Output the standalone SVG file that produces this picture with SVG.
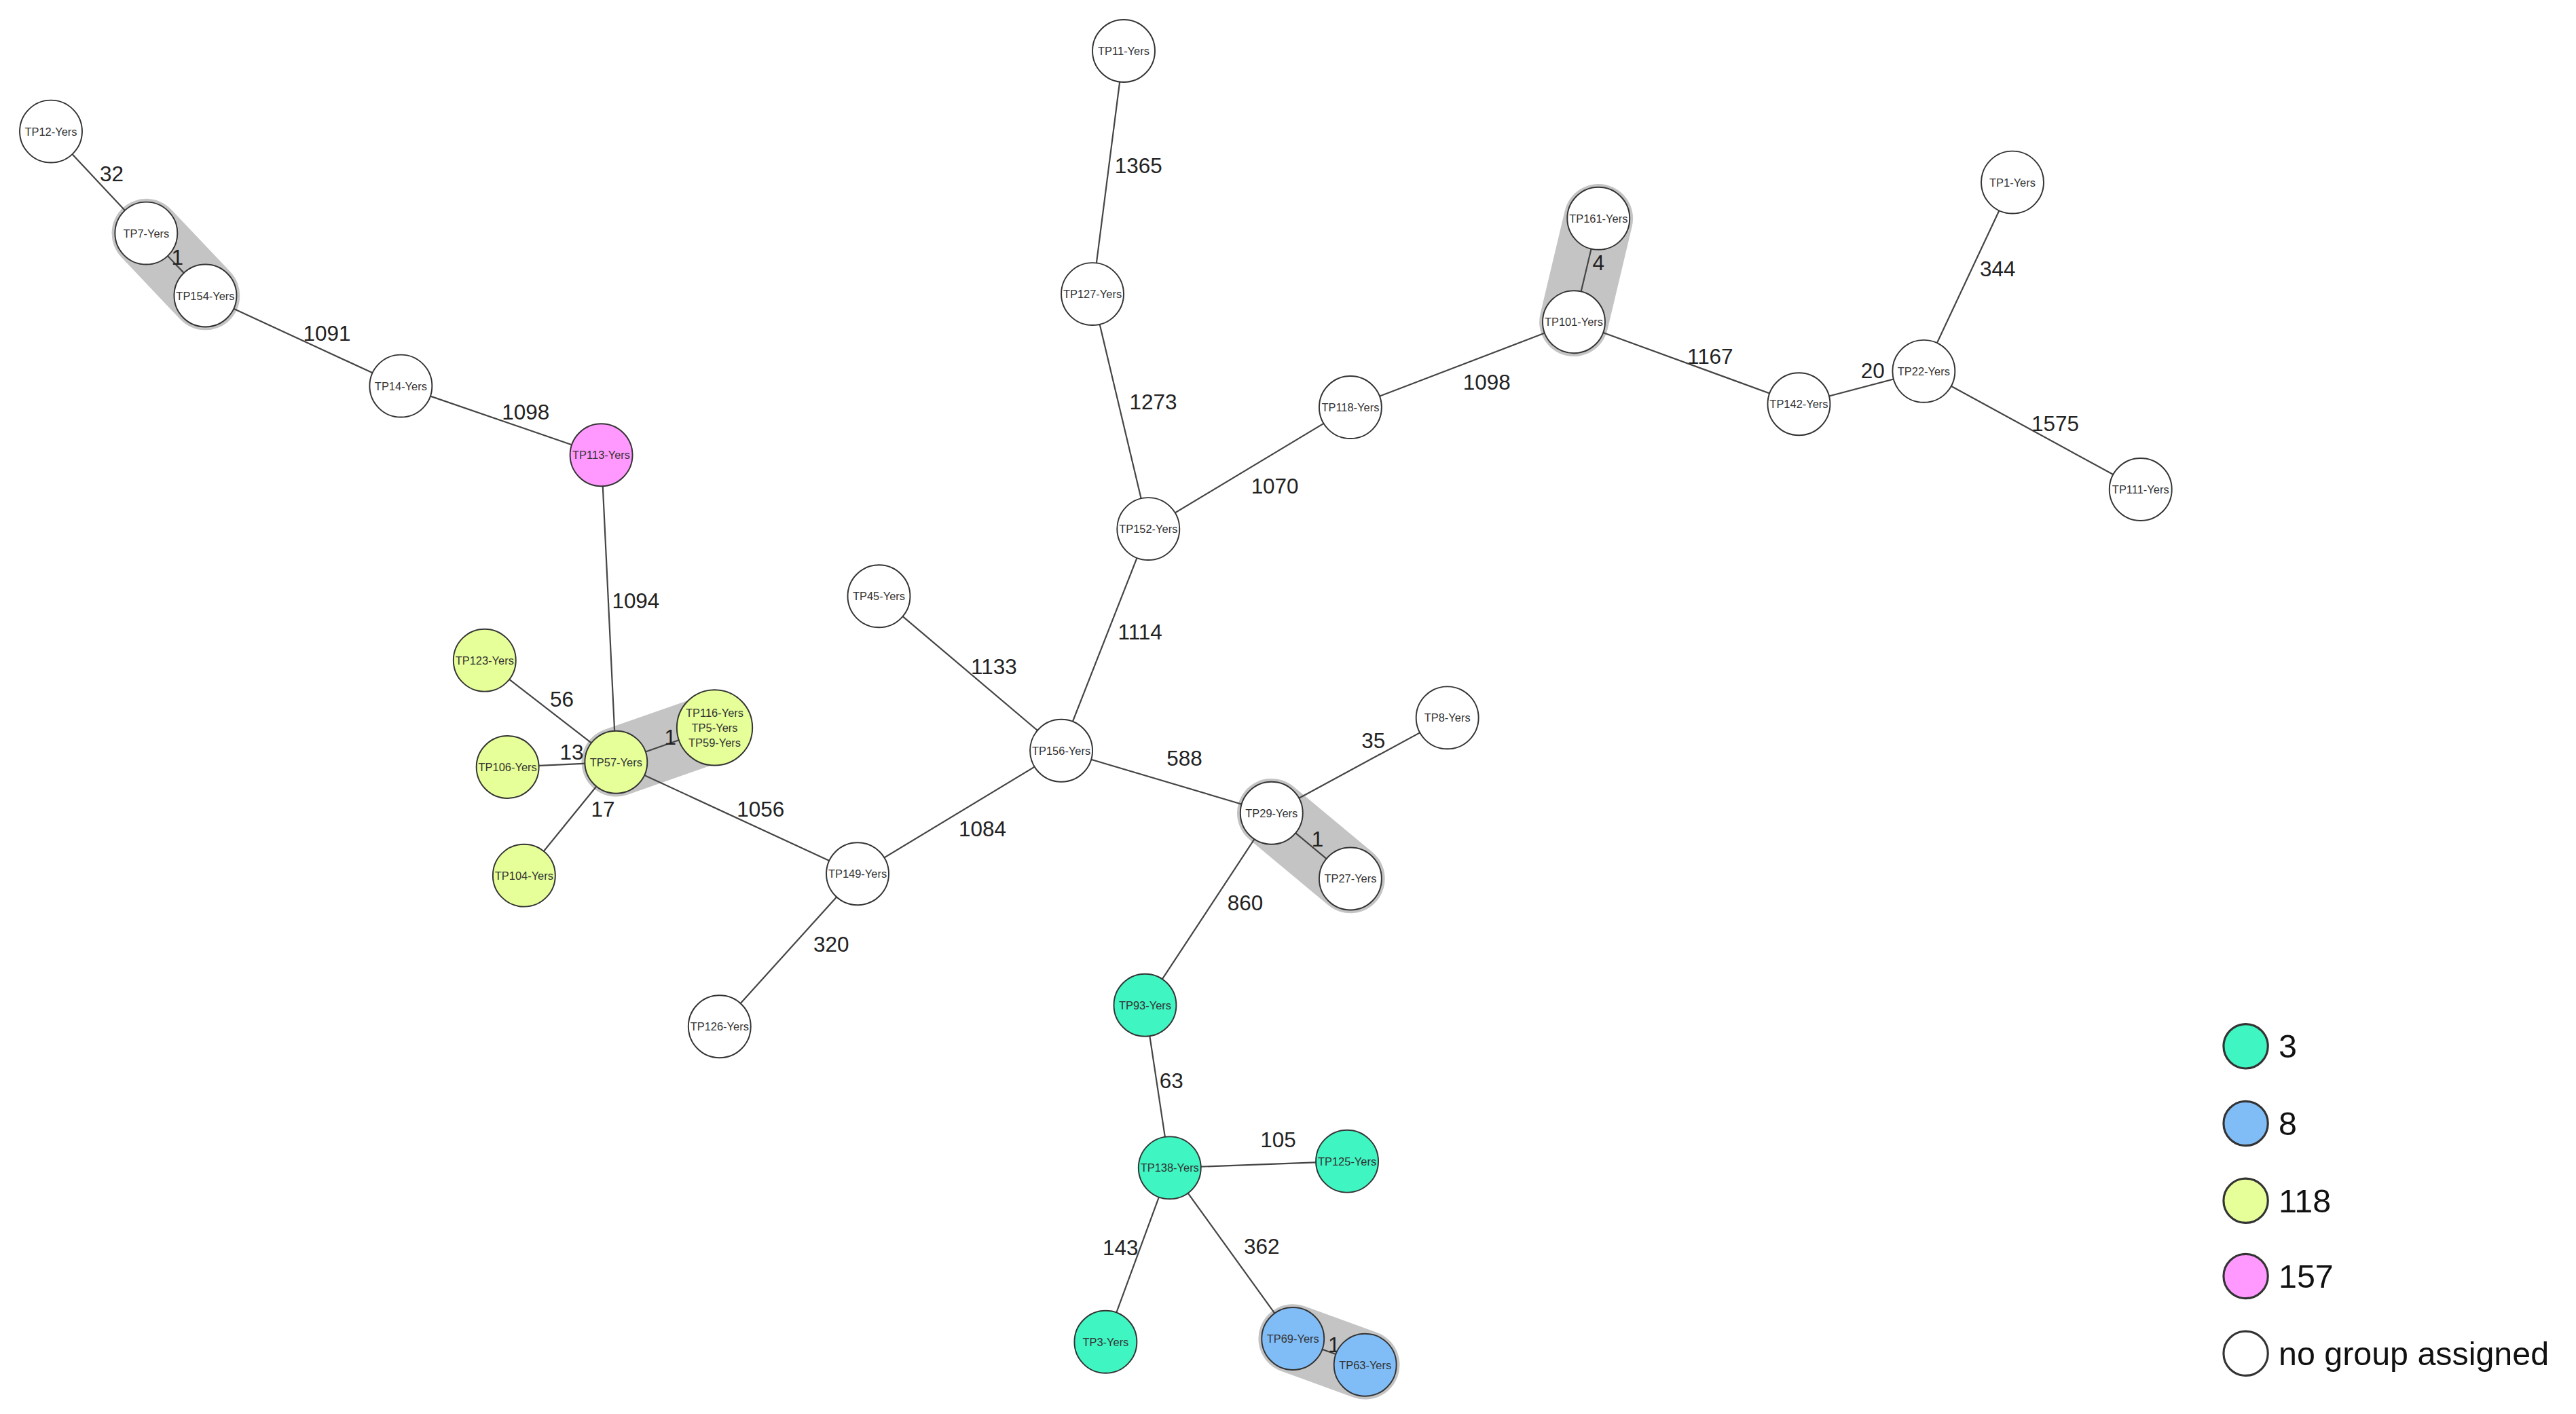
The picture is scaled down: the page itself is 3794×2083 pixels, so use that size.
<svg xmlns="http://www.w3.org/2000/svg" width="3794" height="2083" viewBox="0 0 3794 2083">
<style>
.n{stroke:#333;stroke-width:0.8}
.w{fill:#fff}.g{fill:#3ff5c2}.b{fill:#80bdf7}.y{fill:#e6ff99}.p{fill:#ff99ff}
.e{stroke:#444;stroke-width:0.9;fill:none}
.h{stroke:#c4c4c4;stroke-width:42;stroke-linecap:round;fill:none}
.t{font-family:"Liberation Sans",Arial,sans-serif;font-size:6.8px;fill:#333;text-anchor:middle;dominant-baseline:central}
.l{font-family:"Liberation Sans",Arial,sans-serif;font-size:13px;fill:#222;text-anchor:middle;dominant-baseline:central}
.lg{font-family:"Liberation Sans",Arial,sans-serif;font-size:20px;fill:#111;dominant-baseline:central}
</style>
<rect width="3794" height="2083" fill="#fff"/>
<g transform="scale(2.4196)">
<g id="hulls">
<line class="h" x1="89" y1="142" x2="125" y2="180"/>
<line class="h" x1="375" y1="464" x2="435" y2="443"/>
<line class="h" x1="973" y1="133" x2="958" y2="196"/>
<line class="h" x1="774" y1="495" x2="822" y2="535"/>
<line class="h" x1="787" y1="815" x2="831" y2="831"/>
</g>
<g id="connectors">
<line class="e" x1="31" y1="80" x2="89" y2="142"/><text class="l" x="68" y="106">32</text>
<line class="e" x1="89" y1="142" x2="125" y2="180"/><text class="l" x="108" y="157">1</text>
<line class="e" x1="125" y1="180" x2="244" y2="235"/><text class="l" x="199" y="203">1091</text>
<line class="e" x1="244" y1="235" x2="366" y2="277"/><text class="l" x="320" y="251">1098</text>
<line class="e" x1="366" y1="277" x2="375" y2="464"/><text class="l" x="387" y="366">1094</text>
<line class="e" x1="295" y1="402" x2="375" y2="464"/><text class="l" x="342" y="426">56</text>
<line class="e" x1="309" y1="467" x2="375" y2="464"/><text class="l" x="348" y="458">13</text>
<line class="e" x1="375" y1="464" x2="435" y2="443"/><text class="l" x="408" y="449">1</text>
<line class="e" x1="319" y1="533" x2="375" y2="464"/><text class="l" x="367" y="493">17</text>
<line class="e" x1="375" y1="464" x2="522" y2="532"/><text class="l" x="463" y="493">1056</text>
<line class="e" x1="522" y1="532" x2="438" y2="625"/><text class="l" x="506" y="575">320</text>
<line class="e" x1="522" y1="532" x2="646" y2="457"/><text class="l" x="598" y="505">1084</text>
<line class="e" x1="535" y1="363" x2="646" y2="457"/><text class="l" x="605" y="406">1133</text>
<line class="e" x1="646" y1="457" x2="699" y2="322"/><text class="l" x="694" y="385">1114</text>
<line class="e" x1="699" y1="322" x2="665" y2="179"/><text class="l" x="702" y="245">1273</text>
<line class="e" x1="665" y1="179" x2="684" y2="31"/><text class="l" x="693" y="101">1365</text>
<line class="e" x1="699" y1="322" x2="822" y2="248"/><text class="l" x="776" y="296">1070</text>
<line class="e" x1="822" y1="248" x2="958" y2="196"/><text class="l" x="905" y="233">1098</text>
<line class="e" x1="958" y1="196" x2="973" y2="133"/><text class="l" x="973" y="160">4</text>
<line class="e" x1="958" y1="196" x2="1095" y2="246"/><text class="l" x="1041" y="217">1167</text>
<line class="e" x1="1095" y1="246" x2="1171" y2="226"/><text class="l" x="1140" y="226">20</text>
<line class="e" x1="1171" y1="226" x2="1225" y2="111"/><text class="l" x="1216" y="164">344</text>
<line class="e" x1="1171" y1="226" x2="1303" y2="298"/><text class="l" x="1251" y="258">1575</text>
<line class="e" x1="646" y1="457" x2="774" y2="495"/><text class="l" x="721" y="462">588</text>
<line class="e" x1="774" y1="495" x2="881" y2="437"/><text class="l" x="836" y="451">35</text>
<line class="e" x1="774" y1="495" x2="822" y2="535"/><text class="l" x="802" y="511">1</text>
<line class="e" x1="774" y1="495" x2="697" y2="612"/><text class="l" x="758" y="550">860</text>
<line class="e" x1="697" y1="612" x2="712" y2="711"/><text class="l" x="713" y="658">63</text>
<line class="e" x1="712" y1="711" x2="820" y2="707"/><text class="l" x="778" y="694">105</text>
<line class="e" x1="712" y1="711" x2="673" y2="817"/><text class="l" x="682" y="760">143</text>
<line class="e" x1="712" y1="711" x2="787" y2="815"/><text class="l" x="768" y="759">362</text>
<line class="e" x1="787" y1="815" x2="831" y2="831"/><text class="l" x="812" y="819">1</text>
</g>
<g id="TP12"><circle class="n w" cx="31" cy="80" r="19"/><text class="t" x="31" y="80">TP12-Yers</text></g>
<g id="TP7"><circle class="n w" cx="89" cy="142" r="19"/><text class="t" x="89" y="142">TP7-Yers</text></g>
<g id="TP154"><circle class="n w" cx="125" cy="180" r="19"/><text class="t" x="125" y="180">TP154-Yers</text></g>
<g id="TP14"><circle class="n w" cx="244" cy="235" r="19"/><text class="t" x="244" y="235">TP14-Yers</text></g>
<g id="TP113"><circle class="n p" cx="366" cy="277" r="19"/><text class="t" x="366" y="277">TP113-Yers</text></g>
<g id="TP123"><circle class="n y" cx="295" cy="402" r="19"/><text class="t" x="295" y="402">TP123-Yers</text></g>
<g id="TP106"><circle class="n y" cx="309" cy="467" r="19"/><text class="t" x="309" y="467">TP106-Yers</text></g>
<g id="TP57"><circle class="n y" cx="375" cy="464" r="19"/><text class="t" x="375" y="464">TP57-Yers</text></g>
<g id="TP116"><circle class="n y" cx="435" cy="443" r="23"/><text class="t" x="435" y="434">TP116-Yers</text><text class="t" x="435" y="443">TP5-Yers</text><text class="t" x="435" y="452">TP59-Yers</text></g>
<g id="TP104"><circle class="n y" cx="319" cy="533" r="19"/><text class="t" x="319" y="533">TP104-Yers</text></g>
<g id="TP149"><circle class="n w" cx="522" cy="532" r="19"/><text class="t" x="522" y="532">TP149-Yers</text></g>
<g id="TP126"><circle class="n w" cx="438" cy="625" r="19"/><text class="t" x="438" y="625">TP126-Yers</text></g>
<g id="TP45"><circle class="n w" cx="535" cy="363" r="19"/><text class="t" x="535" y="363">TP45-Yers</text></g>
<g id="TP156"><circle class="n w" cx="646" cy="457" r="19"/><text class="t" x="646" y="457">TP156-Yers</text></g>
<g id="TP152"><circle class="n w" cx="699" cy="322" r="19"/><text class="t" x="699" y="322">TP152-Yers</text></g>
<g id="TP127"><circle class="n w" cx="665" cy="179" r="19"/><text class="t" x="665" y="179">TP127-Yers</text></g>
<g id="TP11"><circle class="n w" cx="684" cy="31" r="19"/><text class="t" x="684" y="31">TP11-Yers</text></g>
<g id="TP118"><circle class="n w" cx="822" cy="248" r="19"/><text class="t" x="822" y="248">TP118-Yers</text></g>
<g id="TP101"><circle class="n w" cx="958" cy="196" r="19"/><text class="t" x="958" y="196">TP101-Yers</text></g>
<g id="TP161"><circle class="n w" cx="973" cy="133" r="19"/><text class="t" x="973" y="133">TP161-Yers</text></g>
<g id="TP142"><circle class="n w" cx="1095" cy="246" r="19"/><text class="t" x="1095" y="246">TP142-Yers</text></g>
<g id="TP22"><circle class="n w" cx="1171" cy="226" r="19"/><text class="t" x="1171" y="226">TP22-Yers</text></g>
<g id="TP1"><circle class="n w" cx="1225" cy="111" r="19"/><text class="t" x="1225" y="111">TP1-Yers</text></g>
<g id="TP111"><circle class="n w" cx="1303" cy="298" r="19"/><text class="t" x="1303" y="298">TP111-Yers</text></g>
<g id="TP8"><circle class="n w" cx="881" cy="437" r="19"/><text class="t" x="881" y="437">TP8-Yers</text></g>
<g id="TP29"><circle class="n w" cx="774" cy="495" r="19"/><text class="t" x="774" y="495">TP29-Yers</text></g>
<g id="TP27"><circle class="n w" cx="822" cy="535" r="19"/><text class="t" x="822" y="535">TP27-Yers</text></g>
<g id="TP93"><circle class="n g" cx="697" cy="612" r="19"/><text class="t" x="697" y="612">TP93-Yers</text></g>
<g id="TP138"><circle class="n g" cx="712" cy="711" r="19"/><text class="t" x="712" y="711">TP138-Yers</text></g>
<g id="TP125"><circle class="n g" cx="820" cy="707" r="19"/><text class="t" x="820" y="707">TP125-Yers</text></g>
<g id="TP3"><circle class="n g" cx="673" cy="817" r="19"/><text class="t" x="673" y="817">TP3-Yers</text></g>
<g id="TP69"><circle class="n b" cx="787" cy="815" r="19"/><text class="t" x="787" y="815">TP69-Yers</text></g>
<g id="TP63"><circle class="n b" cx="831" cy="831" r="19"/><text class="t" x="831" y="831">TP63-Yers</text></g>
<g id="legend">
<circle class="n g" cx="1367" cy="637" r="13.5" style="stroke-width:1.3"/><text class="lg" x="1387" y="637">3</text>
<circle class="n b" cx="1367" cy="684" r="13.5" style="stroke-width:1.3"/><text class="lg" x="1387" y="684">8</text>
<circle class="n y" cx="1367" cy="731" r="13.5" style="stroke-width:1.3"/><text class="lg" x="1387" y="731">118</text>
<circle class="n p" cx="1367" cy="777" r="13.5" style="stroke-width:1.3"/><text class="lg" x="1387" y="777">157</text>
<circle class="n w" cx="1367" cy="824" r="13.5" style="stroke-width:1.3"/><text class="lg" x="1387" y="824">no group assigned</text>
</g>
</g>
</svg>
